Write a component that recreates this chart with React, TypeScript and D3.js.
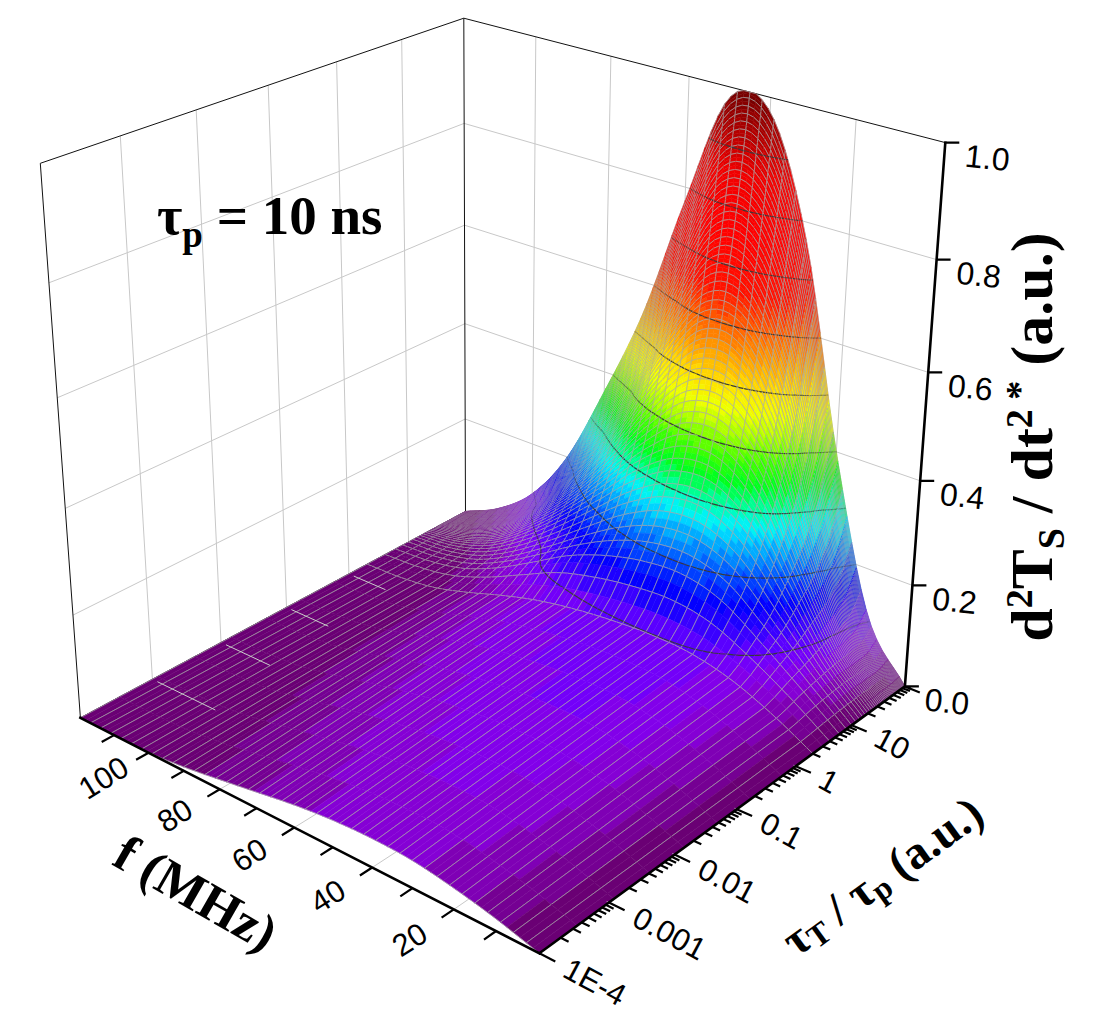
import * as d3 from 'd3'
import { useMemo } from 'react'

const width = 1093
const height = 1025

// grid: f along columns, tau_T/tau_p along rows
const fMHz = [0, 10, 20, 30, 40, 50, 60, 70, 80, 90, 100, 110, 120]
const tauRatio = [1e-4, 2, 5, 10, 20, 30, 40, 50, 60, 70, 80, 90, 100]
const zRows = [
  [0, 0.022, 0.039, 0.051, 0.054, 0.051, 0.043, 0.031, 0.019, 0.008, 0.001, 0, 0],
  [0, 0.042, 0.075, 0.094, 0.099, 0.096, 0.088, 0.075, 0.055, 0.031, 0.011, 0.002, 0],
  [0, 0.056, 0.107, 0.151, 0.169, 0.165, 0.15, 0.125, 0.085, 0.046, 0.017, 0.004, 0],
  [0, 0.065, 0.138, 0.208, 0.24, 0.236, 0.205, 0.158, 0.106, 0.058, 0.022, 0.005, 0],
  [0, 0.073, 0.183, 0.297, 0.354, 0.35, 0.3, 0.225, 0.152, 0.088, 0.037, 0.01, 0],
  [0, 0.076, 0.212, 0.37, 0.452, 0.45, 0.378, 0.277, 0.184, 0.11, 0.048, 0.014, 0],
  [0, 0.078, 0.238, 0.434, 0.54, 0.541, 0.446, 0.32, 0.212, 0.125, 0.058, 0.018, 0],
  [0, 0.08, 0.265, 0.495, 0.622, 0.624, 0.508, 0.357, 0.236, 0.134, 0.063, 0.021, 0],
  [0, 0.083, 0.286, 0.551, 0.698, 0.702, 0.555, 0.387, 0.258, 0.143, 0.068, 0.025, 0],
  [0, 0.088, 0.316, 0.609, 0.771, 0.775, 0.613, 0.427, 0.285, 0.158, 0.075, 0.028, 0],
  [0, 0.095, 0.345, 0.665, 0.841, 0.846, 0.669, 0.466, 0.311, 0.173, 0.082, 0.03, 0],
  [0, 0.103, 0.373, 0.718, 0.91, 0.914, 0.723, 0.504, 0.336, 0.187, 0.089, 0.033, 0],
  [0, 0.11, 0.4, 0.77, 0.975, 0.98, 0.775, 0.54, 0.36, 0.2, 0.095, 0.035, 0],
]

const fTicks = [20, 40, 60, 80, 100]
const fMinor = [10, 30, 50, 70, 90, 110]
const tauTicks = [1e-4, 1e-3, 1e-2, 1e-1, 1, 10, 100]
const tauLabels = ['1E-4', '0.001', '0.01', '0.1', '1', '10', '']
const tauGridLines = [1e-3, 1e-2, 1e-1, 1, 10]
const zTicks = [0, 0.2, 0.4, 0.6, 0.8, 1.0]
const zLabels = ['0.0', '0.2', '0.4', '0.6', '0.8', '1.0']
const zGridLines = [0.2, 0.4, 0.6, 0.8]
const contourLevels = [0.1, 0.2, 0.3, 0.4, 0.5, 0.6, 0.7, 0.8, 0.9]

const colourStops = [0, 0.02, 0.04, 0.06, 0.08, 0.1, 0.13, 0.16, 0.2, 0.24, 0.27, 0.3, 0.34, 0.38, 0.42, 0.46, 0.5, 0.55, 0.6, 0.66, 0.76, 0.86, 0.94, 1]
const colours = ['#640066', '#720088', '#7e00b2', '#8600d8', '#8000f0', '#6a00ff', '#3000ff', '#0000ff', '#0050ff', '#00a8ff', '#00f0ff', '#00ffb0', '#00ff20', '#40ff00', '#a8ff00', '#f0ff00', '#ffe000', '#ffa000', '#ff6000', '#ff1000', '#ff0000', '#f00000', '#a80000', '#700000']

// screen position of box corners / z ticks, used to fit the camera (world: X=f, Y=log tau, Z=z, all 0..1)
const anchors: [number, number, number, number, number][] = [
  [0, 0, 0, 539, 951],
  [1, 0, 0, 81, 721],
  [0, 1, 0, 904, 688],
  [1, 1, 0, 465, 508],
  [1, 1, 1, 464, 20],
  [1, 0, 1, 40, 162],
  [0, 1, 1, 944, 141],
  [0, 1, 0.2, 913, 587],
  [0, 1, 0.4, 921, 480],
  [0, 1, 0.6, 929, 373],
  [0, 1, 0.8, 937, 260],
]

const solve = (A: number[][], b: number[]) => {
  const n = b.length
  const M = A.map((row, i) => [...row, b[i]])
  for (let c = 0; c < n; c++) {
    let p = c
    for (let r = c + 1; r < n; r++) if (Math.abs(M[r][c]) > Math.abs(M[p][c])) p = r
    ;[M[c], M[p]] = [M[p], M[c]]
    for (let r = 0; r < n; r++) {
      if (r === c) continue
      const k = M[r][c] / M[c][c]
      for (let j = c; j <= n; j++) M[r][j] -= k * M[c][j]
    }
  }
  return M.map((row, i) => row[n] / row[i])
}

const fitCamera = () => {
  const rows: number[][] = []
  const rhs: number[] = []
  for (const [X, Y, Z, u0, v0] of anchors) {
    const u = (u0 - 550) / 500
    const v = (v0 - 500) / 500
    rows.push([X, Y, Z, 1, 0, 0, 0, 0, -u * X, -u * Y, -u * Z]); rhs.push(u)
    rows.push([0, 0, 0, 0, X, Y, Z, 1, -v * X, -v * Y, -v * Z]); rhs.push(v)
  }
  const N = Array.from({ length: 11 }, () => new Array(11).fill(0))
  const r = new Array(11).fill(0)
  rows.forEach((row, k) => {
    for (let i = 0; i < 11; i++) {
      r[i] += row[i] * rhs[k]
      for (let j = 0; j < 11; j++) N[i][j] += row[i] * row[j]
    }
  })
  const p = solve(N, r)
  const project = (X: number, Y: number, Z: number): [number, number] => {
    const w = p[8] * X + p[9] * Y + p[10] * Z + 1
    return [
      550 + 500 * (p[0] * X + p[1] * Y + p[2] * Z + p[3]) / w,
      500 + 500 * (p[4] * X + p[5] * Y + p[6] * Z + p[7]) / w,
    ]
  }
  const eye = solve(
    [[p[0], p[1], p[2]], [p[4], p[5], p[6]], [p[8], p[9], p[10]]],
    [-p[3], -p[7], -1],
  )
  return { project, eye }
}

// cubic Hermite through the read values; 'monotone' uses Fritsch-Butland tangents, otherwise Catmull-Rom
const hermite = (xs: number[], ys: number[], monotone: boolean) => {
  const n = xs.length
  const d = d3.range(n - 1).map((i) => (ys[i + 1] - ys[i]) / (xs[i + 1] - xs[i]))
  const m = xs.map((_, i) => {
    if (i === 0) return d[0]
    if (i === n - 1) return d[n - 2]
    if (!monotone) return (ys[i + 1] - ys[i - 1]) / (xs[i + 1] - xs[i - 1])
    if (d[i - 1] * d[i] <= 0) return 0
    const h0 = xs[i] - xs[i - 1]
    const h1 = xs[i + 1] - xs[i]
    return (3 * (h0 + h1)) / ((2 * h1 + h0) / d[i - 1] + (h1 + 2 * h0) / d[i])
  })
  return (x: number) => {
    let i = d3.bisectRight(xs, x) - 1
    i = Math.max(0, Math.min(n - 2, i))
    const h = xs[i + 1] - xs[i]
    const t = (x - xs[i]) / h
    const t2 = t * t
    const t3 = t2 * t
    return (2 * t3 - 3 * t2 + 1) * ys[i] + (t3 - 2 * t2 + t) * h * m[i] + (-2 * t3 + 3 * t2) * ys[i + 1] + (t3 - t2) * h * m[i + 1]
  }
}

const pt = (p: [number, number]) => `${p[0].toFixed(1)},${p[1].toFixed(1)}`

const serif = "'Liberation Serif', 'Times New Roman', serif"
const sans = "'Liberation Sans', Arial, sans-serif"

const App = () => {
  const chart = useMemo(() => {
    const { project, eye } = fitCamera()
    const xScale = d3.scaleLinear().domain([0, 120]).range([0, 1])
    const yScale = d3.scaleLog().domain([1e-4, 100]).range([0, 1])
    const colour = d3.scaleLinear<string>().domain(colourStops).range(colours).interpolate(d3.interpolateRgb).clamp(true)

    // height between grid nodes: smooth along f, smooth along tau, straight across the first (1e-4..2) strip
    const stripTop = Math.log10(tauRatio[1])
    const rowInterp = zRows.map((r) => hermite(fMHz, r, false))
    const column = (f: number) => {
      const col = rowInterp.map((g) => g(f))
      const alongTau = hermite(tauRatio.slice(1), col.slice(1), true)
      return (tau: number) => {
        const z = tau < tauRatio[1] ? col[0] + ((col[1] - col[0]) * (Math.log10(tau) + 4)) / (stripTop + 4) : alongTau(tau)
        return Math.max(0, Math.min(1, z))
      }
    }

    // drawing samples: mesh every 3 MHz and every 2 units of tau (linear steps, as in the source grid)
    const fFine = d3.range(0, 120.0001, 1.5)
    const rows: { tau: number; mesh: boolean }[] = [{ tau: 1e-4, mesh: true }]
    for (let s = 1; s < 8; s++) rows.push({ tau: 10 ** (-4 + (s * (stripTop + 4)) / 8), mesh: false })
    for (let t = 2; t <= 100; t++) rows.push({ tau: t, mesh: t % 2 === 0 })

    const zGrid = rows.map(() => new Array<number>(fFine.length))
    fFine.forEach((f, i) => {
      const zOf = column(f)
      rows.forEach((row, j) => {
        zGrid[j][i] = zOf(row.tau)
      })
    })

    const P = rows.map((row, j) => fFine.map((f, i) => project(xScale(f), yScale(row.tau), zGrid[j][i])))

    const cells: { d: string; fill: string; mesh: string; cont: string; dist: number }[] = []
    for (let j = 0; j < rows.length - 1; j++) {
      for (let i = 0; i < fFine.length - 1; i++) {
        const p00 = P[j][i], p10 = P[j][i + 1], p01 = P[j + 1][i], p11 = P[j + 1][i + 1]
        const z00 = zGrid[j][i], z10 = zGrid[j][i + 1], z01 = zGrid[j + 1][i], z11 = zGrid[j + 1][i + 1]
        const zAvg = (z00 + z10 + z01 + z11) / 4
        const q = Math.min(59, Math.floor(zAvg * 60))
        let mesh = ''
        if (i % 2 === 0) mesh += `M${pt(p00)}L${pt(p01)}`
        if ((i + 1) % 2 === 0) mesh += `M${pt(p10)}L${pt(p11)}`
        if (rows[j].mesh) mesh += `M${pt(p00)}L${pt(p10)}`
        if (rows[j + 1].mesh) mesh += `M${pt(p01)}L${pt(p11)}`
        let cont = ''
        const tris: [[number, number], number][][] = [
          [[p00, z00], [p10, z10], [p11, z11]],
          [[p00, z00], [p11, z11], [p01, z01]],
        ]
        for (const level of contourLevels) {
          for (const tri of tris) {
            const hits: [number, number][] = []
            for (let e = 0; e < 3; e++) {
              const [pa, za] = tri[e]
              const [pb, zb] = tri[(e + 1) % 3]
              if ((za < level) !== (zb < level)) {
                const t = (level - za) / (zb - za)
                hits.push([pa[0] + t * (pb[0] - pa[0]), pa[1] + t * (pb[1] - pa[1])])
              }
            }
            if (hits.length === 2) cont += `M${pt(hits[0])}L${pt(hits[1])}`
          }
        }
        const cx = xScale((fFine[i] + fFine[i + 1]) / 2)
        const cy = (yScale(rows[j].tau) + yScale(rows[j + 1].tau)) / 2
        cells.push({
          d: `M${pt(p00)}L${pt(p10)}L${pt(p11)}L${pt(p01)}Z`,
          fill: colour((q + 0.5) / 60),
          mesh,
          cont,
          dist: Math.hypot(cx - eye[0], cy - eye[1]),
        })
      }
    }
    cells.sort((a, b) => b.dist - a.dist)

    const line = (a: [number, number, number], b: [number, number, number]) =>
      `M${pt(project(...a))}L${pt(project(...b))}`

    const wallGrid = [
      ...tauGridLines.map((t) => line([1, yScale(t), 0], [1, yScale(t), 1])),
      ...fTicks.map((f) => line([xScale(f), 1, 0], [xScale(f), 1, 1])),
      ...zGridLines.map((z) => line([1, 0, z], [1, 1, z]) + line([1, 1, z], [0, 1, z])),
    ].join('')

    const floorGrid = [
      ...tauGridLines.map((t) => line([0, yScale(t), 0], [1, yScale(t), 0])),
      ...fTicks.map((f) => line([xScale(f), 0, 0], [xScale(f), 1, 0])),
    ].join('')

    // floor grid showing through where the surface lies flat on the floor
    let floorPeek = ''
    for (const t of tauGridLines.filter((v) => v <= 1)) {
      let open: [number, number] | null = null
      let last: [number, number] | null = null
      for (let f = 0; f <= 120; f += 0.5) {
        const flat = column(f)(t) < 0.0025 && f < 119
        const p = project(xScale(f), yScale(t), 0)
        if (flat && !open) open = p
        if (!flat && open && last) {
          floorPeek += `M${pt(open)}L${pt(last)}`
          open = null
        }
        last = p
      }
      if (open && last) floorPeek += `M${pt(open)}L${pt(last)}`
    }

    const walls = [
      [[1, 0, 0], [1, 1, 0], [1, 1, 1], [1, 0, 1]],
      [[1, 1, 0], [0, 1, 0], [0, 1, 1], [1, 1, 1]],
    ].map((w) => 'M' + w.map((c) => pt(project(c[0], c[1], c[2]))).join('L') + 'Z')

    const boxEdges = [
      line([1, 0, 1], [1, 1, 1]),
      line([1, 1, 1], [0, 1, 1]),
      line([1, 0, 0], [1, 0, 1]),
      line([1, 1, 0], [1, 1, 1]),
      line([1, 0, 0], [1, 1, 0]),
      line([1, 1, 0], [0, 1, 0]),
    ].join('')

    const axes = [line([0, 0, 0], [1, 0, 0]), line([0, 0, 0], [0, 1, 0]), line([0, 1, 0], [0, 1, 1])].join('')

    const fTickPath = [...fTicks, ...fMinor].map((f) => line([xScale(f), 0, 0], [xScale(f), -0.028, 0])).join('')
    const tauMinor: number[] = []
    for (let e = -4; e < 2; e++) for (let k = 2; k <= 9; k++) tauMinor.push(k * 10 ** e)
    const tauTickPath =
      tauTicks.map((t) => line([0, yScale(t), 0], [-0.03, yScale(t), 0])).join('') +
      tauMinor.map((t) => line([0, yScale(t), 0], [-0.015, yScale(t), 0])).join('')
    const zTickPos = zTicks.map((z) => project(0, 1, z))
    const zTickPath = zTickPos.map((p) => `M${pt(p)}L${pt([p[0] + 14, p[1]])}`).join('')

    return {
      cells,
      walls,
      wallGrid,
      floorGrid,
      floorPeek,
      boxEdges,
      axes,
      fTickPath,
      tauTickPath,
      zTickPath,
      fLabelPos: fTicks.map((f) => project(xScale(f), -0.1, 0)),
      tauLabelPos: tauTicks.map((t) => project(-0.05, yScale(t), 0)),
      zTickPos,
    }
  }, [])

  return (
    <div style={{ position: 'absolute', left: 0, top: 0 }}>
      <svg width={width} height={height} viewBox={`0 0 ${width} ${height}`} style={{ display: 'block', background: 'white' }}>
        {chart.walls.map((d, k) => (
          <path key={k} d={d} fill="white" />
        ))}
        <path d={chart.wallGrid + chart.floorGrid} stroke="#c8c8c8" strokeWidth={1} fill="none" />
        <path d={chart.boxEdges} stroke="#111" strokeWidth={1} fill="none" />

        {chart.cells.map((c, k) => (
          <g key={k}>
            <path d={c.d} fill={c.fill} stroke={c.fill} strokeWidth={0.5} />
            {c.mesh && <path d={c.mesh} stroke="#a9a9a9" strokeWidth={0.7} fill="none" />}
            {c.cont && <path d={c.cont} stroke="#3a3a3a" strokeWidth={1.2} fill="none" />}
          </g>
        ))}
        <path d={chart.floorPeek} stroke="#cccccc" strokeWidth={1} fill="none" />

        <path d={chart.axes} stroke="black" strokeWidth={2.6} fill="none" strokeLinecap="square" />
        <path d={chart.fTickPath + chart.tauTickPath + chart.zTickPath} stroke="black" strokeWidth={2.2} fill="none" />

        {fTicks.map((f, k) => (
          <text
            key={f}
            transform={`translate(${chart.fLabelPos[k][0]},${chart.fLabelPos[k][1]}) rotate(-32)`}
            textAnchor="middle"
            dominantBaseline="central"
            fontFamily={sans}
            fontSize={31}
          >
            {f}
          </text>
        ))}
        {tauLabels.map((label, k) =>
          label ? (
            <text
              key={label}
              transform={`translate(${chart.tauLabelPos[k][0]},${chart.tauLabelPos[k][1]}) rotate(28)`}
              dominantBaseline="central"
              fontFamily={sans}
              fontSize={31}
            >
              {label}
            </text>
          ) : null,
        )}
        {zLabels.map((label, k) => (
          <text
            key={label}
            transform={`translate(${chart.zTickPos[k][0] + 20},${chart.zTickPos[k][1] + 13}) rotate(6)`}
            dominantBaseline="central"
            fontFamily={sans}
            fontSize={32}
          >
            {label}
          </text>
        ))}

        <text transform="translate(196,893) rotate(30)" textAnchor="middle" dominantBaseline="central" fontFamily={serif} fontWeight="bold" fontSize={52}>
          f (MHz)
        </text>
        <text transform="translate(882,876) rotate(-36)" textAnchor="middle" dominantBaseline="central" fontFamily={serif} fontWeight="bold" fontSize={47}>
          τ<tspan dy={10} fontSize={32}>T</tspan>
          <tspan dy={-10}> / τ</tspan>
          <tspan dy={10} fontSize={32}>p</tspan>
          <tspan dy={-10}> (a.u.)</tspan>
        </text>
        <text transform="translate(1052,437) rotate(-90)" textAnchor="middle" fontFamily={serif} fontWeight="bold" fontSize={60}>
          d<tspan dy={-20} fontSize={38}>2</tspan>
          <tspan dy={20}>T</tspan>
          <tspan dy={12} fontSize={38}>S</tspan>
          <tspan dy={-12}> / dt</tspan>
          <tspan dy={-20} fontSize={38}>2 *</tspan>
          <tspan dy={20}> (a.u.)</tspan>
        </text>
        <text x={157} y={234} fontFamily={serif} fontWeight="bold" fontSize={55}>
          τ<tspan dy={13} fontSize={37}>p</tspan>
          <tspan dy={-13}> = 10 ns</tspan>
        </text>
      </svg>
    </div>
  )
}

export default App
